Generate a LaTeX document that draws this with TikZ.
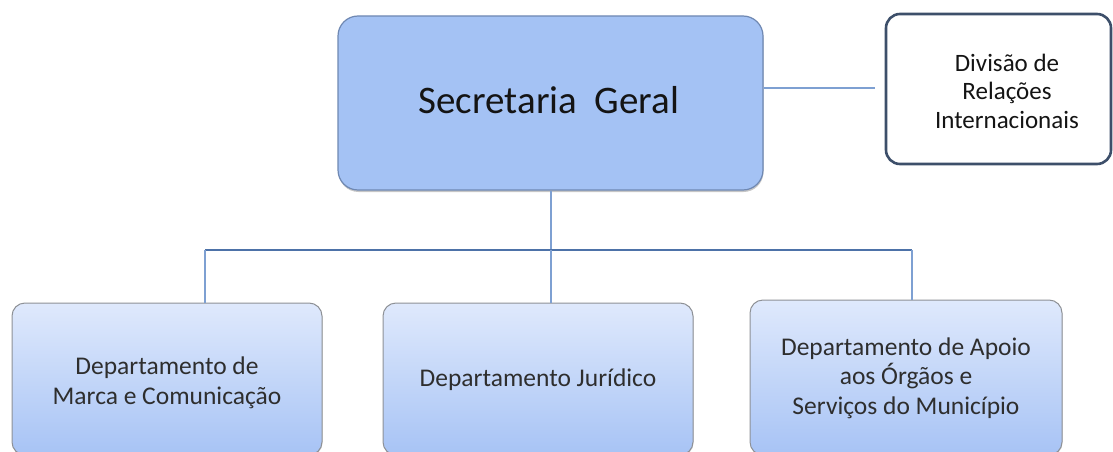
\documentclass[tikz,border=0pt]{standalone}
\usepackage{fontspec}
\setmainfont{Carlito}
\usetikzlibrary{shadows}
\definecolor{topfill}{HTML}{A4C2F4}
\definecolor{topdraw}{HTML}{6F88B2}
\definecolor{divdraw}{HTML}{3D4F6A}
\definecolor{boxtop}{HTML}{DFE9FC}
\definecolor{boxbot}{HTML}{A7C3F5}
\definecolor{boxdraw}{HTML}{8E9196}
\definecolor{linklight}{HTML}{7EA0D2}
\definecolor{linkdark}{HTML}{4D72A8}
\definecolor{txt}{HTML}{141414}
\begin{document}
\begin{tikzpicture}[x=1pt,y=-1pt,
  headbox/.style={draw=topdraw, line width=1.2pt, fill=topfill, rounded corners=20pt,
    minimum width=425pt, minimum height=174pt, inner sep=0pt,
    drop shadow={shadow xshift=0.5pt, shadow yshift=-2pt, opacity=0.45}},
  headtext/.style={font=\fontsize{39}{44}\selectfont, text=txt, inner sep=0pt},
  sidebox/.style={draw=divdraw, line width=2.6pt, fill=white, rounded corners=14pt,
    minimum width=225pt, minimum height=150pt, inner sep=0pt},
  sidetext/.style={align=center, font=\fontsize{25}{28.5}\selectfont, text=txt, inner sep=0pt},
  deptbox/.style={draw=boxdraw, line width=1pt, top color=boxtop, bottom color=boxbot,
    rounded corners=13pt, minimum height=152pt, inner sep=0pt,
    drop shadow={shadow xshift=0.5pt, shadow yshift=-1pt, opacity=0.3}},
  depttext/.style={align=center, font=\fontsize{25.5}{29.5}\selectfont, text=black!82, inner sep=0pt},
  link/.style={draw=linklight, line width=1.6pt},
  buslink/.style={draw=linkdark, line width=1.8pt}
]
\useasboundingbox (0,0) rectangle (1113,452);
\begin{scope}
\clip (0,0) rectangle (1113,452);
\node[headbox] (top) at (550.5,103) {};
\node[headtext] (toptxt) at (549,100) {Secretaria\ \ Geral};
\node[sidebox] (div) at (998.5,89) {};
\node[sidetext] (divtxt) at (1007,91) {Divisão de\\Relações\\Internacionais};
\node[deptbox, minimum width=310pt] (b1) at (167,379) {};
\node[depttext] (b1txt) at (167,383) {Departamento de\\Marca e Comunicação};
\node[deptbox, minimum width=310pt] (b2) at (538,379) {};
\node[depttext] (b2txt) at (538,380) {Departamento Jurídico};
\node[deptbox, minimum width=312pt, minimum height=155pt] (b3) at (906,377.5) {};
\node[depttext] (b3txt) at (906,378) {Departamento de Apoio\\aos Órgãos e\\Serviços do Município};

\coordinate (bus) at (551,250);
\coordinate (c1) at (205,250);
\coordinate (c3) at (912,250);

\draw[link] ([yshift=15pt]top.east) -- ([yshift=15pt]top.east -| div.west) [shorten >=10pt];
\draw[link] (top.south -| bus) -- (bus);
\draw[buslink] (c1) -- (c3);
\draw[link] (c1) -- (c1 |- b1.north);
\draw[link] (bus) -- (bus |- b2.north);
\draw[link] (c3) -- (c3 |- b3.north);
\end{scope}
\end{tikzpicture}
\end{document}
